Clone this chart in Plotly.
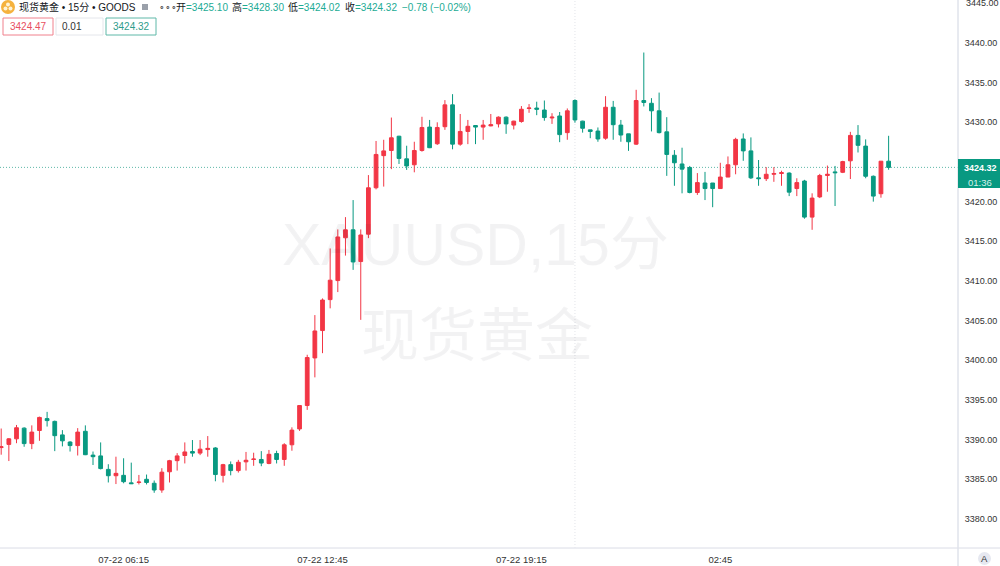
import pandas as pd
import plotly.graph_objects as go

open_ = [3389.0,3389.4,3390.1,3391.45,3389.5,3391.15,3392.65,3392.3,3390.6,3389.7,
 3389.25,3391.05,3388.05,3387.95,3386.25,3385.45,3385.5,3384.55,3384.6,3385.0,
 3384.5,3383.65,3385.95,3387.35,3388.0,3388.5,3388.3,3388.75,3388.95,3385.5,
 3386.85,3386.1,3387.2,3387.5,3387.5,3387.0,3388.25,3387.5,3389.35,3391.35,
 3394.3,3400.3,3403.75,3407.65,3410.05,3415.45,3416.45,3412.45,3415.9,3421.75,
 3425.8,3426.45,3428.25,3425.4,3424.65,3426.45,3429.4,3427.3,3429.45,3432.2,
 3427.25,3428.85,3429.6,3429.4,3429.55,3429.8,3430.65,3429.65,3430.1,3431.75,
 3431.8,3431.55,3430.55,3430.8,3428.7,3432.75,3430.15,3429.05,3428.9,3428.0,
 3431.9,3429.65,3428.55,3427.25,3432.75,3432.4,3431.45,3428.8,3425.85,3424.75,
 3424.3,3421.15,3422.35,3422.35,3421.65,3423.1,3424.65,3427.9,3426.4,3423.0,
 3422.9,3423.45,3423.55,3423.6,3421.65,3422.6,3418.05,3420.6,3423.3,3423.75,
 3423.7,3425.15,3428.35,3427.0,3423.2,3421.0,3425.10]
high = [3391.4,3390.2,3391.85,3391.55,3391.8,3392.9,3393.5,3392.4,3391.2,3389.8,
 3391.45,3391.8,3388.5,3389.65,3386.9,3387.85,3387.65,3387.1,3385.55,3385.6,
 3384.85,3386.4,3387.45,3388.3,3389.65,3389.95,3389.95,3390.45,3389.05,3386.95,
 3387.25,3387.45,3388.45,3388.35,3388.55,3388.7,3388.6,3389.55,3391.55,3394.35,
 3400.7,3405.7,3407.8,3414.1,3416.5,3418.05,3420.2,3416.5,3423.35,3427.65,
 3427.8,3430.6,3428.3,3427.05,3427.55,3430.7,3430.3,3430.0,3432.8,3433.55,
 3431.05,3430.3,3429.65,3430.3,3431.05,3430.75,3430.75,3430.2,3432.05,3432.3,
 3432.6,3432.75,3431.15,3431.3,3431.75,3432.9,3430.2,3429.05,3429.35,3433.3,
 3432.7,3430.3,3428.55,3434.1,3438.8,3433.05,3433.75,3430.65,3426.5,3426.8,
 3424.5,3423.6,3423.75,3422.35,3424.9,3425.7,3428.05,3428.6,3428.1,3425.25,
 3424.35,3424.35,3423.9,3423.7,3422.95,3422.75,3421.05,3423.5,3424.55,3424.5,
 3425.15,3428.8,3429.65,3427.85,3423.3,3425.1,3428.30]
low = [3388.1,3387.3,3389.55,3389.1,3388.8,3389.85,3391.65,3388.55,3389.15,3388.5,
 3388.0,3388.05,3386.8,3386.25,3384.6,3384.4,3384.5,3384.4,3384.35,3384.35,
 3383.3,3383.3,3384.6,3386.1,3387.0,3387.85,3388.05,3387.85,3384.75,3384.6,
 3385.5,3385.85,3386.1,3386.7,3386.65,3386.9,3387.0,3386.7,3388.6,3391.1,
 3393.75,3397.85,3400.9,3406.55,3408.6,3413.2,3411.4,3405.1,3415.4,3421.55,
 3421.9,3424.1,3424.75,3424.0,3423.7,3426.3,3426.75,3427.15,3429.05,3426.6,
 3427.05,3427.25,3427.25,3427.8,3429.5,3429.35,3428.55,3429.1,3429.95,3431.2,
 3430.9,3430.2,3429.8,3427.5,3427.8,3429.95,3428.7,3428.0,3427.55,3427.8,
 3427.8,3427.55,3426.4,3427.15,3432.0,3428.85,3428.6,3423.25,3422.0,3421.05,
 3421.05,3420.85,3420.2,3419.3,3421.6,3423.1,3423.45,3425.15,3422.85,3422.0,
 3422.6,3422.5,3422.0,3420.7,3420.7,3417.85,3416.45,3420.45,3421.25,3419.45,
 3423.6,3422.85,3426.2,3422.95,3420.0,3420.5,3424.02]
close = [3389.1,3390.1,3391.5,3389.5,3390.95,3392.8,3392.4,3390.5,3389.85,3389.25,
 3390.95,3388.1,3387.85,3386.35,3385.45,3385.75,3384.7,3384.45,3384.65,3384.6,
 3383.65,3385.9,3387.35,3387.95,3388.45,3388.3,3388.8,3388.9,3385.6,3386.85,
 3386.1,3387.15,3387.4,3387.55,3387.05,3388.15,3387.5,3389.35,3391.2,3394.3,
 3400.35,3403.7,3407.6,3410.1,3415.55,3416.45,3412.4,3415.8,3421.75,3425.95,
 3426.4,3428.05,3425.45,3424.5,3426.45,3429.35,3426.8,3429.35,3432.2,3427.25,
 3428.85,3429.5,3429.4,3429.65,3429.7,3430.65,3429.8,3430.15,3431.65,3431.8,
 3431.65,3430.6,3430.65,3428.45,3431.45,3430.3,3429.25,3428.85,3427.9,3431.9,
 3429.7,3428.4,3427.55,3432.75,3432.5,3431.45,3428.7,3425.95,3424.9,3424.1,
 3421.15,3422.4,3421.65,3421.65,3423.1,3424.65,3427.85,3426.4,3423.0,3422.9,
 3423.45,3423.55,3423.65,3421.2,3422.4,3418.05,3420.45,3423.3,3423.45,3423.65,
 3425.05,3428.35,3427.1,3423.2,3420.7,3425.1,3424.32]

# bars before and after the daily market pause
session_1 = ("2025-07-22 02:15", 87)
session_2 = ("2025-07-23 01:00", 30)

tick_times = ["07-22 06:15", "07-22 12:45", "07-22 19:15", "07-23 02:45"]
tick_labels = ["07-22 06:15", "07-22 12:45", "07-22 19:15", "02:45"]
# 3425.00 sits behind the last-price tag and 3445.00 is clipped by the top edge
price_ticks = [3380, 3385, 3390, 3395, 3400, 3405, 3410, 3415, 3420, 3430, 3435, 3440]
top_tick = "3445.00"
last_price = 3424.32
crosshair_time = "07-22 21:00"

times = [t.strftime("%m-%d %H:%M") for t in
         list(pd.date_range(session_1[0], periods=session_1[1], freq="15min")) +
         list(pd.date_range(session_2[0], periods=session_2[1], freq="15min"))]

UP, DOWN = "#F23645", "#089981"
W, H, PW, PH = 1000, 566, 958, 548
FONT = "Liberation Sans, Noto Sans CJK SC, sans-serif"
px = lambda x: x / PW
py = lambda y: (PH - y) / PH

fig = go.Figure(go.Candlestick(
    x=times, open=open_, high=high, low=low, close=close,
    increasing=dict(line=dict(color=UP, width=1), fillcolor=UP),
    decreasing=dict(line=dict(color=DOWN, width=1), fillcolor=DOWN),
    showlegend=False, hoverinfo="skip",
))

shapes, annos = [], []
def rect(x0, y0, x1, y1, fill="rgba(0,0,0,0)", line=None, w=1, kind="rect", layer="above"):
    shapes.append(dict(type=kind, xref="paper", yref="paper", x0=px(x0), x1=px(x1), y0=py(y0), y1=py(y1),
                       fillcolor=fill, line=dict(color=line or "rgba(0,0,0,0)", width=w if line else 0), layer=layer))
def text(x, y, s, color="#131722", size=10, anchor="left", font=FONT, shadow=None):
    f = dict(family=font, size=size, color=color)
    if shadow:
        f["shadow"] = shadow
    annos.append(dict(xref="paper", yref="paper", x=px(x), y=py(y), text=s, showarrow=False, xanchor=anchor,
                      yanchor="middle", borderpad=0, font=f))

# axes borders, crosshair, last price line
rect(0, 548, 1000, 548, line="#E6E8EE")
rect(958, 0, 958, 566, line="#E0E3EB")
shapes.append(dict(type="line", xref="x", yref="paper", x0=crosshair_time, x1=crosshair_time, y0=0, y1=1,
                   line=dict(color="#E2E4EA", width=1, dash="1px,2px"), layer="below"))
shapes.append(dict(type="line", xref="paper", yref="y", x0=0, x1=1, y0=last_price, y1=last_price,
                   line=dict(color="#5FB8A8", width=1, dash="1px,2px"), layer="below"))

# watermark
WM = "rgba(60,60,70,0.055)"
WM_SHADOW = f"0.7px 0 0 {WM}, -0.7px 0 0 {WM}"
text(475, 245, "XAUUSD,15分", color=WM, size=59, anchor="center", shadow=WM_SHADOW)
text(477, 335, "现货黄金", color=WM, size=58, anchor="center", shadow=WM_SHADOW)

# price tag
rect(958, 159, 1000, 188, fill="#089981")
text(980, 167.5, "<b>3424.32</b>", color="#FFFFFF", size=9, anchor="center")
text(980, 182, "01:36", color="#D6F0EA", size=9.5, anchor="center")
text(965, 3, top_tick, color="#333333", size=9)

# header
rect(1, 0, 15, 14, fill="#F5B23E", kind="circle")
rect(6, 2.5, 10, 6.5, fill="#FFF3D6", kind="circle")
rect(3.5, 6.5, 7.5, 10.5, fill="#FFF3D6", kind="circle")
rect(8.5, 6.5, 12.5, 10.5, fill="#FFF3D6", kind="circle")
text(18, 7, "现货黄金 • 15分 • GOODS", size=10)
rect(142, 4, 148, 10, fill="#9AA0AA")
text(158, 7.5, "∘∘∘", size=9, color="#444444")
VAL = "#22AB94"
for x, lab, val in [(175, "开", "=3425.10"), (231, "高", "=3428.30"), (287, "低", "=3424.02"), (344, "收", "=3424.32")]:
    text(x, 7, f"{lab}<span style='color:{VAL}'>{val}</span>", size=10)
text(401, 7, "−0.78 (−0.02%)", color=VAL, size=10)

# order boxes
rect(3, 18, 53, 35, line="#F0808C")
rect(56, 18, 103, 35, line="#E4E6EB")
rect(106, 18, 156, 35, line="#5FB8A8")
text(28, 27, "3424.47", color="#E8505F", size=10, anchor="center")
text(61, 27, "0.01", color="#333333", size=10)
text(131, 27, "3424.32", color="#2E9C8A", size=10, anchor="center")

# auto-scale button
rect(978, 552, 991, 565, fill="#E6E8F0", kind="circle")
text(984.5, 558.5, "A", color="#333333", size=9.5, anchor="center")

fig.update_layout(
    width=W, height=H, autosize=False,
    margin=dict(l=0, r=W - PW, t=0, b=H - PH),
    paper_bgcolor="#FFFFFF", plot_bgcolor="#FFFFFF",
    shapes=shapes, annotations=annos,
    font=dict(family=FONT, size=9, color="#333333"),
    xaxis=dict(type="category", range=[-0.157, 125.07],
               rangeslider=dict(visible=False), showgrid=False, zeroline=False, showline=False,
               tickmode="array", tickvals=tick_times, ticktext=tick_labels, ticks="outside", ticklen=3,
               tickcolor="rgba(0,0,0,0)", tickfont=dict(size=9.5, color="#333333")),
    yaxis=dict(side="right", range=[3376.34, 3445.42], showgrid=False, zeroline=False, showline=False,
               tickmode="array", tickvals=price_ticks, ticktext=[f"{p:.2f}" for p in price_ticks],
               ticks="outside", ticklen=4, tickcolor="rgba(0,0,0,0)", tickfont=dict(size=9, color="#333333")),
)
fig.write_html("out.html", config=dict(displayModeBar=False),
               post_script="document.body.style.margin='0';document.body.style.overflow='hidden';")
